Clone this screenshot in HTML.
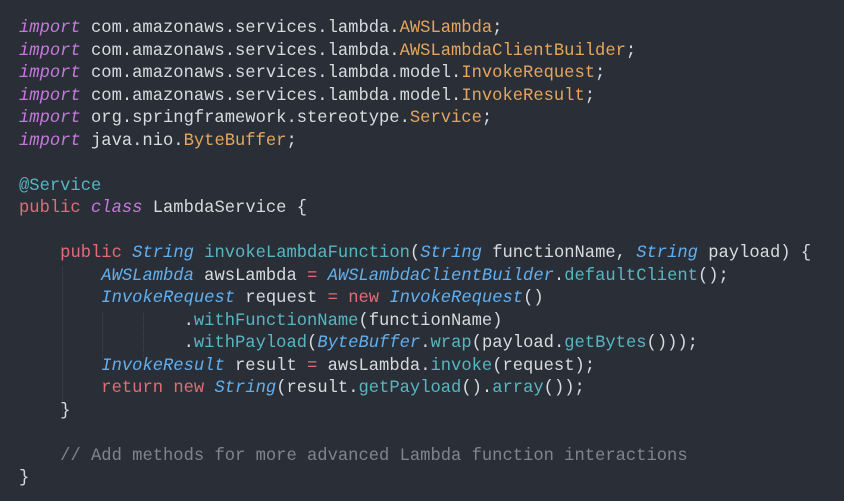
<!DOCTYPE html>
<html><head><meta charset="utf-8"><style>
html,body{margin:0;padding:0;}
body{width:844px;height:501px;background:#2a2f37;overflow:hidden;position:relative;}
pre{margin:0;position:absolute;left:19px;top:18px;font-family:"Liberation Mono",monospace;font-size:17.15px;line-height:22.5px;color:#d7dae0;}
.k{color:#c678dd;font-style:italic}
.c{color:#e5a55c}
.r{color:#e06c75}
.t{color:#61afef;font-style:italic}
.f{color:#56b6c2}
.a{color:#56b6c2}
.g{color:#7f848e}
.o{color:#e06c75}
.guide{position:absolute;width:0;border-left:1px dotted #3e4451;}
</style></head><body>
<div class="guide" style="left:62px;top:267px;height:146px"></div>
<div class="guide" style="left:102px;top:313px;height:45px"></div>
<div class="guide" style="left:143px;top:313px;height:45px"></div>
<pre><span class="k">import</span> com.amazonaws.services.lambda.<span class="c">AWSLambda</span>;
<span class="k">import</span> com.amazonaws.services.lambda.<span class="c">AWSLambdaClientBuilder</span>;
<span class="k">import</span> com.amazonaws.services.lambda.model.<span class="c">InvokeRequest</span>;
<span class="k">import</span> com.amazonaws.services.lambda.model.<span class="c">InvokeResult</span>;
<span class="k">import</span> org.springframework.stereotype.<span class="c">Service</span>;
<span class="k">import</span> java.nio.<span class="c">ByteBuffer</span>;

<span class="a">@Service</span>
<span class="r">public</span> <span class="k">class</span> LambdaService {

    <span class="r">public</span> <span class="t">String</span> <span class="f">invokeLambdaFunction</span>(<span class="t">String</span> functionName, <span class="t">String</span> payload) {
        <span class="t">AWSLambda</span> awsLambda <span class="o">=</span> <span class="t">AWSLambdaClientBuilder</span>.<span class="f">defaultClient</span>();
        <span class="t">InvokeRequest</span> request <span class="o">=</span> <span class="r">new</span> <span class="t">InvokeRequest</span>()
                .<span class="f">withFunctionName</span>(functionName)
                .<span class="f">withPayload</span>(<span class="t">ByteBuffer</span>.<span class="f">wrap</span>(payload.<span class="f">getBytes</span>()));
        <span class="t">InvokeResult</span> result <span class="o">=</span> awsLambda.<span class="f">invoke</span>(request);
        <span class="r">return</span> <span class="r">new</span> <span class="t">String</span>(result.<span class="f">getPayload</span>().<span class="f">array</span>());
    }

    <span class="g">// Add methods for more advanced Lambda function interactions</span>
}</pre>
</body></html>
